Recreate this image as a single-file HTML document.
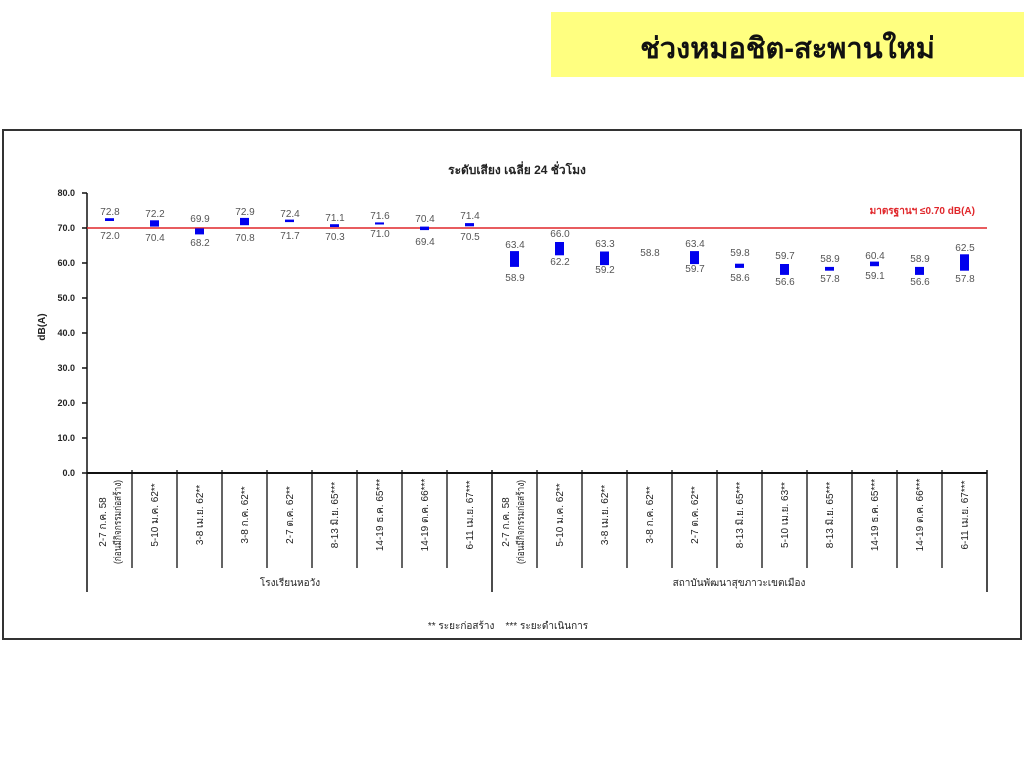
<!DOCTYPE html>
<html><head><meta charset="utf-8">
<style>
html,body{margin:0;padding:0;background:#fff;width:1024px;height:768px;overflow:hidden;}
body{font-family:"Liberation Sans",sans-serif;}
.title{position:absolute;left:551px;top:12px;width:473px;height:65px;background:#ffff80;}
.title span{position:absolute;left:0;right:0;top:13px;text-align:center;font-size:29px;font-weight:bold;color:#111;padding-left:0px;}
svg{position:absolute;left:0;top:0;}
</style></head><body>
<div class="title"><span>ช่วงหมอชิต-สะพานใหม่</span></div>
<svg width="1024" height="768" viewBox="0 0 1024 768" font-family="Liberation Sans, sans-serif">
<rect x="3" y="130" width="1018" height="509" fill="#fff" stroke="#333" stroke-width="2"/>
<text x="517" y="174" text-anchor="middle" font-size="12" font-weight="bold" fill="#222">ระดับเสียง เฉลี่ย 24 ชั่วโมง</text>
<!-- y axis -->
<g font-size="9" font-weight="bold" fill="#222" text-anchor="end">
<text x="75" y="196">80.0</text>
<text x="75" y="231">70.0</text>
<text x="75" y="266">60.0</text>
<text x="75" y="301">50.0</text>
<text x="75" y="336">40.0</text>
<text x="75" y="371">30.0</text>
<text x="75" y="406">20.0</text>
<text x="75" y="441">10.0</text>
<text x="75" y="476">0.0</text>
</g>
<g stroke="#111" stroke-width="1.5">
<line x1="82" y1="193" x2="87" y2="193"/><line x1="82" y1="228" x2="87" y2="228"/>
<line x1="82" y1="263" x2="87" y2="263"/><line x1="82" y1="298" x2="87" y2="298"/>
<line x1="82" y1="333" x2="87" y2="333"/><line x1="82" y1="368" x2="87" y2="368"/>
<line x1="82" y1="403" x2="87" y2="403"/><line x1="82" y1="438" x2="87" y2="438"/>
<line x1="82" y1="473" x2="87" y2="473"/>
<line x1="87" y1="193" x2="87" y2="592"/>
<line x1="87" y1="473" x2="987" y2="473" stroke-width="2"/>
<line x1="492" y1="470" x2="492" y2="592"/>
<line x1="987" y1="470" x2="987" y2="592"/>
</g>
<g stroke="#111" stroke-width="1.3">
<line x1="132" y1="470" x2="132" y2="568"/><line x1="177" y1="470" x2="177" y2="568"/>
<line x1="222" y1="470" x2="222" y2="568"/><line x1="267" y1="470" x2="267" y2="568"/>
<line x1="312" y1="470" x2="312" y2="568"/><line x1="357" y1="470" x2="357" y2="568"/>
<line x1="402" y1="470" x2="402" y2="568"/><line x1="447" y1="470" x2="447" y2="568"/>
<line x1="537" y1="470" x2="537" y2="568"/><line x1="582" y1="470" x2="582" y2="568"/>
<line x1="627" y1="470" x2="627" y2="568"/><line x1="672" y1="470" x2="672" y2="568"/>
<line x1="717" y1="470" x2="717" y2="568"/><line x1="762" y1="470" x2="762" y2="568"/>
<line x1="807" y1="470" x2="807" y2="568"/><line x1="852" y1="470" x2="852" y2="568"/>
<line x1="897" y1="470" x2="897" y2="568"/><line x1="942" y1="470" x2="942" y2="568"/>
</g>
<text transform="translate(45,327) rotate(-90)" text-anchor="middle" font-size="10" font-weight="bold" fill="#222">dB(A)</text>
<!-- standard line -->
<line x1="87" y1="228" x2="987" y2="228" stroke="#e0262a" stroke-width="1.5"/>
<text x="975" y="214" text-anchor="end" font-size="10" font-weight="bold" fill="#e0262a">มาตรฐานฯ ≤0.70 dB(A)</text>
<!-- bars -->
<g fill="#0000ee">
<rect x="105" y="218.2" width="9" height="2.8"/>
<rect x="150" y="220.3" width="9" height="6.3"/>
<rect x="195" y="228.4" width="9" height="6"/>
<rect x="240" y="217.9" width="9" height="7.3"/>
<rect x="285" y="219.6" width="9" height="2.5"/>
<rect x="330" y="224.2" width="9" height="2.8"/>
<rect x="375" y="222.4" width="9" height="2.1"/>
<rect x="420" y="226.6" width="9" height="3.5"/>
<rect x="465" y="223.1" width="9" height="3.2"/>
<rect x="510" y="251.1" width="9" height="15.8"/>
<rect x="555" y="242" width="9" height="13.3"/>
<rect x="600" y="251.5" width="9" height="13.6"/>
<rect x="690" y="251.1" width="9" height="13"/>
<rect x="735" y="263.7" width="9" height="4.2"/>
<rect x="780" y="264" width="9" height="10.9"/>
<rect x="825" y="266.9" width="9" height="3.8"/>
<rect x="870" y="261.6" width="9" height="4.6"/>
<rect x="915" y="266.9" width="9" height="8"/>
<rect x="960" y="254.3" width="9" height="16.4"/>
</g>
<!-- value labels -->
<g font-size="10" fill="#555" text-anchor="middle">
<text x="110" y="215">72.8</text><text x="110" y="239">72.0</text>
<text x="155" y="217">72.2</text><text x="155" y="241">70.4</text>
<text x="200" y="222">69.9</text><text x="200" y="246">68.2</text>
<text x="245" y="215">72.9</text><text x="245" y="241">70.8</text>
<text x="290" y="217">72.4</text><text x="290" y="239">71.7</text>
<text x="335" y="221">71.1</text><text x="335" y="240">70.3</text>
<text x="380" y="219">71.6</text><text x="380" y="237">71.0</text>
<text x="425" y="222">70.4</text><text x="425" y="245">69.4</text>
<text x="470" y="219">71.4</text><text x="470" y="240">70.5</text>
<text x="515" y="248">63.4</text><text x="515" y="281">58.9</text>
<text x="560" y="237">66.0</text><text x="560" y="265">62.2</text>
<text x="605" y="247">63.3</text><text x="605" y="273">59.2</text>
<text x="650" y="256">58.8</text>
<text x="695" y="247">63.4</text><text x="695" y="272">59.7</text>
<text x="740" y="256">59.8</text><text x="740" y="281">58.6</text>
<text x="785" y="259">59.7</text><text x="785" y="285">56.6</text>
<text x="830" y="262">58.9</text><text x="830" y="282">57.8</text>
<text x="875" y="259">60.4</text><text x="875" y="279">59.1</text>
<text x="920" y="262">58.9</text><text x="920" y="285">56.6</text>
<text x="965" y="251">62.5</text><text x="965" y="282">57.8</text>
</g>
<!-- category labels -->
<g font-size="10" fill="#222" text-anchor="middle">
<text transform="translate(106,522) rotate(-90)">2-7 ก.ค. 58</text>
<text transform="translate(121,522) rotate(-90)" textLength="84" lengthAdjust="spacingAndGlyphs">(ก่อนมีกิจกรรมก่อสร้าง)</text>
<text transform="translate(158,515) rotate(-90)">5-10 ม.ค. 62**</text>
<text transform="translate(203,515) rotate(-90)">3-8 เม.ย. 62**</text>
<text transform="translate(248,515) rotate(-90)">3-8 ก.ค. 62**</text>
<text transform="translate(293,515) rotate(-90)">2-7 ต.ค. 62**</text>
<text transform="translate(338,515) rotate(-90)">8-13 มิ.ย. 65***</text>
<text transform="translate(383,515) rotate(-90)">14-19 ธ.ค. 65***</text>
<text transform="translate(428,515) rotate(-90)">14-19 ต.ค. 66***</text>
<text transform="translate(473,515) rotate(-90)">6-11 เม.ย. 67***</text>
<text transform="translate(509,522) rotate(-90)">2-7 ก.ค. 58</text>
<text transform="translate(524,522) rotate(-90)" textLength="84" lengthAdjust="spacingAndGlyphs">(ก่อนมีกิจกรรมก่อสร้าง)</text>
<text transform="translate(563,515) rotate(-90)">5-10 ม.ค. 62**</text>
<text transform="translate(608,515) rotate(-90)">3-8 เม.ย. 62**</text>
<text transform="translate(653,515) rotate(-90)">3-8 ก.ค. 62**</text>
<text transform="translate(698,515) rotate(-90)">2-7 ต.ค. 62**</text>
<text transform="translate(743,515) rotate(-90)">8-13 มิ.ย. 65***</text>
<text transform="translate(788,515) rotate(-90)">5-10 เม.ย. 63**</text>
<text transform="translate(833,515) rotate(-90)">8-13 มิ.ย. 65***</text>
<text transform="translate(878,515) rotate(-90)">14-19 ธ.ค. 65***</text>
<text transform="translate(923,515) rotate(-90)">14-19 ต.ค. 66***</text>
<text transform="translate(968,515) rotate(-90)">6-11 เม.ย. 67***</text>
</g>
<g font-size="10" fill="#222" text-anchor="middle">
<text x="290" y="586">โรงเรียนหอวัง</text>
<text x="739" y="586">สถาบันพัฒนาสุขภาวะเขตเมือง</text>
<text x="508" y="629">** ระยะก่อสร้าง &#160;&#160;&#160;*** ระยะดำเนินการ</text>
</g>
</svg>
</body></html>
